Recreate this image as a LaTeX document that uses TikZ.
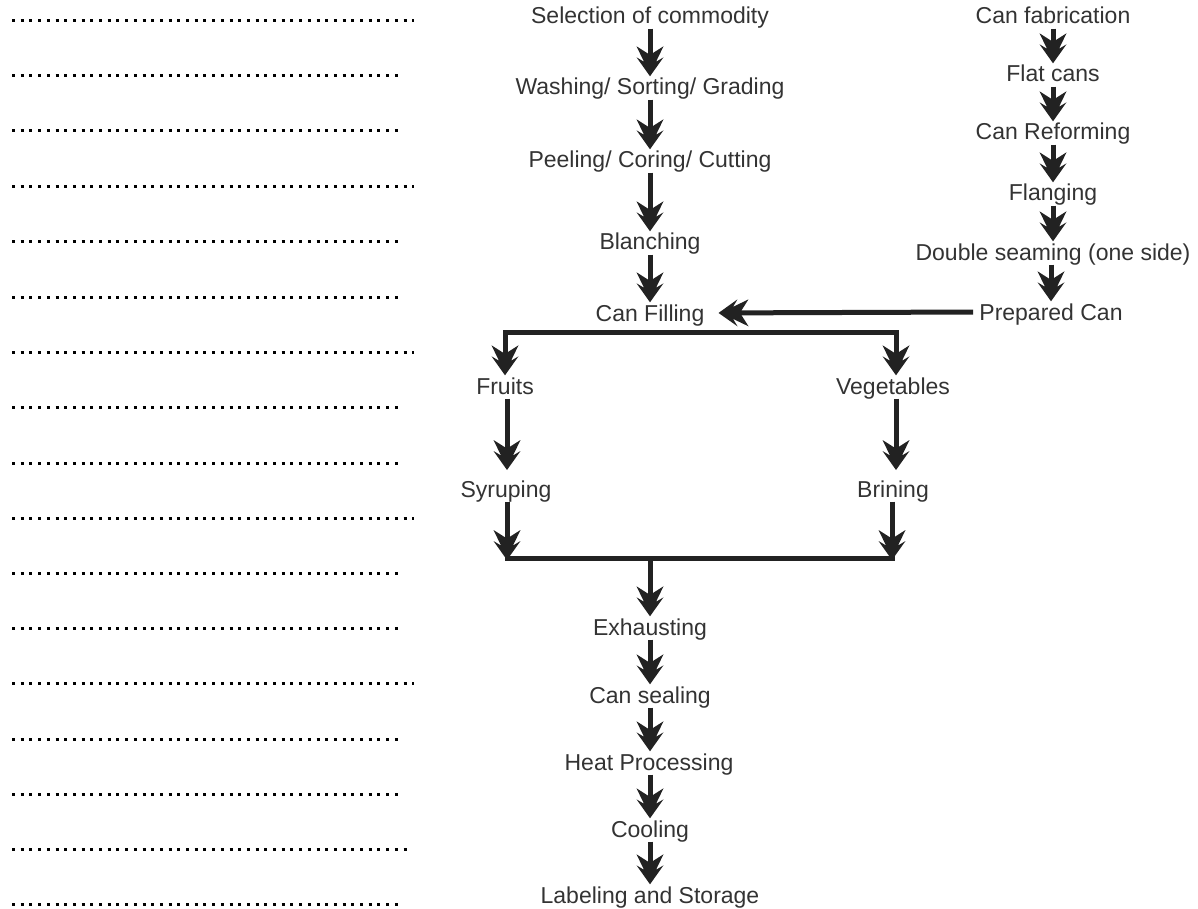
\documentclass[tikz,border=0pt]{standalone}
\usepackage{fontspec}
\setmainfont{Liberation Sans}
\usetikzlibrary{arrows.meta}
\definecolor{ink}{HTML}{222222}
\definecolor{txt}{HTML}{333333}
\pgfdeclarearrow{
  name = DblHead,
  setup code = {
    \pgfarrowssettipend{0pt}
    \pgfarrowssetlineend{-20pt}
    \pgfarrowssetbackend{-30pt}
    \pgfarrowssetvisualbackend{-22pt}
    \pgfarrowshullpoint{0pt}{0pt}
    \pgfarrowshullpoint{-30pt}{13.5pt}
    \pgfarrowshullpoint{-30pt}{-13.5pt}
  },
  drawing code = {
    \pgfsetfillcolor{ink}
    \pgfpathmoveto{\pgfqpoint{0pt}{0pt}}
    \pgfpathlineto{\pgfqpoint{-19pt}{13.5pt}}
    \pgfpathlineto{\pgfqpoint{-14.5pt}{6pt}}
    \pgfpathlineto{\pgfqpoint{-30pt}{13.5pt}}
    \pgfpathlineto{\pgfqpoint{-23pt}{2.5pt}}
    \pgfpathlineto{\pgfqpoint{-23pt}{-2.5pt}}
    \pgfpathlineto{\pgfqpoint{-30pt}{-13.5pt}}
    \pgfpathlineto{\pgfqpoint{-14.5pt}{-6pt}}
    \pgfpathlineto{\pgfqpoint{-19pt}{-13.5pt}}
    \pgfpathclose
    \pgfusepathqfill
  }
}
\tikzset{
  lbl/.style={text=txt, font=\fontsize{23}{26}\selectfont, inner sep=0pt, text height=18.5pt, text depth=2.5pt},
  arr/.style={draw=ink, line width=5pt, -{DblHead}, shorten <=2pt},
  bar/.style={draw=ink, line width=5pt, line cap=rect},
  dotrow/.style={draw=black, line width=3pt, dash pattern=on 3pt off 5.7pt}
}
\begin{document}
\begin{tikzpicture}[x=1pt,y=-1pt]
\useasboundingbox (0,0) rectangle (1198,909);

% dotted answer lines
\foreach \yy/\xe in {21/414,76/401,131/401,187/414,242/401,297/401,352/414,407/401,463/401,518/414,573/401,628/401,683/414,739/401,794/401,849/409,904/401}
  \draw[dotrow] (12,\yy) -- (\xe,\yy);

% main column
\node[lbl] (sel) at (650,16) {Selection of commodity};
\node[lbl] (wash) at (650,87) {Washing/ Sorting/ Grading};
\node[lbl] (peel) at (650,160) {Peeling/ Coring/ Cutting};
\node[lbl] (blan) at (650,242) {Blanching};
\node[lbl] (fill) at (650,313) {Can Filling};
\node[lbl] (fru) at (505,386) {Fruits};
\node[lbl] (veg) at (893,386) {Vegetables};
\node[lbl] (syr) at (506,489) {Syruping};
\node[lbl] (bri) at (893,489) {Brining};
\node[lbl] (exh) at (650,627) {Exhausting};
\node[lbl] (seal) at (650,695) {Can sealing};
\node[lbl] (heat) at (649,762) {Heat Processing};
\node[lbl] (cool) at (650,829) {Cooling};
\node[lbl] (lab) at (650,895) {Labeling and Storage};

% right column
\node[lbl] (fab) at (1053,16) {Can fabrication};
\node[lbl] (flat) at (1053,74) {Flat cans};
\node[lbl] (ref) at (1053,132) {Can Reforming};
\node[lbl] (fla) at (1053,193) {Flanging};
\node[lbl] (dbl) at (1053,252) {Double seaming (one side)};
\node[lbl] (prep) at (1051,312) {Prepared Can};

% main vertical arrows
\draw[arr] (sel) -- (wash);
\draw[arr] (wash) -- (peel);
\draw[arr] (peel) -- (blan);
\draw[arr] (blan) -- (fill);
\draw[arr] (exh) -- (seal);
\draw[arr] (seal.south) -- (seal.south |- heat.north);
\draw[arr] (heat.south -| cool) -- (cool);
\draw[arr] (cool) -- (lab);

% right column arrows
\draw[arr] (fab) -- (flat);
\draw[arr] (flat) -- (ref);
\draw[arr] (ref) -- (fla);
\draw[arr] (fla) -- (dbl);
\draw[arr] (dbl.south -| prep) -- (prep);

% prepared can to can filling
\draw[arr, shorten <=6pt, shorten >=14pt] (prep.west) -- (fill.east);

% branch
\coordinate (jL) at (505,332);
\coordinate (jR) at (896,332);
\draw[bar] (jL) -- (jR);
\draw[arr, shorten <=0pt] (jL) -- (fru);
\draw[arr, shorten <=0pt] (jR) -- (jR |- veg.north);

\draw[arr] (fru.south -| 507,0) -- (507,470);
\draw[arr] (veg.south -| jR) -- (896,470);

% merge
\coordinate (mL) at (507,558);
\coordinate (mR) at (892,558);
\coordinate (mC) at (650,558);
\draw[bar] (mL) -- (mR);
\draw[arr, shorten >=-2pt] (syr.south -| mL) -- (mL);
\draw[arr, shorten >=-2pt] (bri.south -| mR) -- (mR);
\draw[arr, shorten <=0pt] (mC) -- (exh);
\end{tikzpicture}
\end{document}
